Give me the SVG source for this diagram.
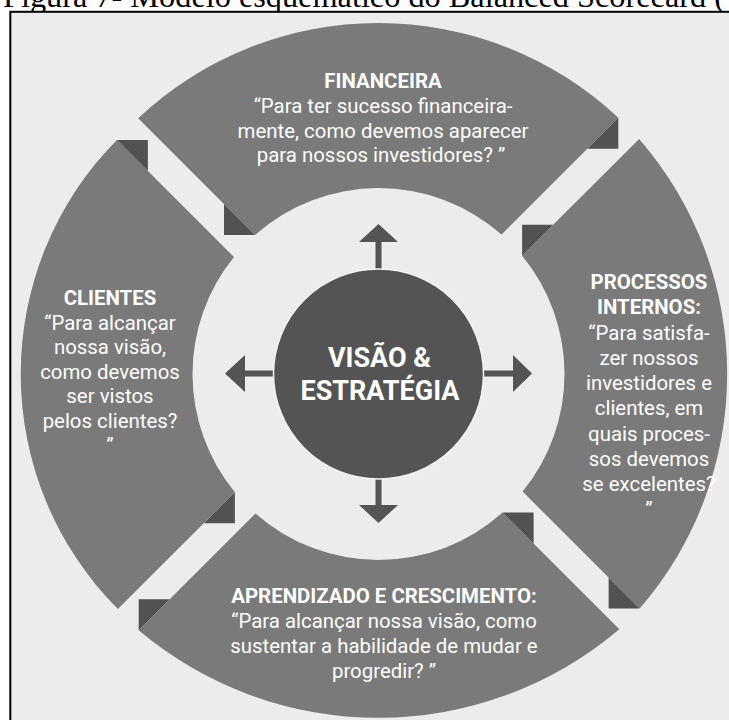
<svg xmlns="http://www.w3.org/2000/svg" width="729" height="720" viewBox="0 0 729 720">
<style>
.seg{fill:#7a7a7a}
.fold{fill:#525252}
.arr{fill:#545454}
.t{font-family:Roboto,"Open Sans",sans-serif;font-size:20.4px;fill:#ffffff;text-anchor:middle}
.b{font-weight:bold}
.c{font-family:Roboto,"Open Sans",sans-serif;font-size:27px;font-weight:bold;fill:#ffffff;text-anchor:middle}
</style>
<rect x="0" y="0" width="729" height="720" fill="#ffffff"/>
<text x="3" y="7" font-family="Liberation Serif, serif" font-size="32.3" fill="#000">Figura 7- Modelo esquemático do Balanced Scorecard (</text>
<rect x="10.3" y="11.8" width="740" height="740" fill="#ececec" stroke="#000" stroke-width="2"/>

<g id="financeira">
<path class="seg" d="M138.2,118.2 A351,351 0 0 1 618.3,117.7 L501.5,234.5 A186,186 0 0 0 255,235 Z"/>
<polygon class="fold" points="255,235 224,235 224,204"/>
<polygon class="fold" points="618.3,117.7 618.3,148.7 587.3,148.7"/>
<text class="t b" x="383" y="88">FINANCEIRA</text>
<text class="t" x="383" y="113">“Para ter sucesso financeira-</text>
<text class="t" x="383" y="138">mente, como devemos aparecer</text>
<text class="t" x="381" y="162">para nossos investidores? ”</text>
</g>

<g id="processos">
<path class="seg" d="M639.1,138.9 A358,358 0 0 1 639.6,608.6 L522.6,491.6 A186,186 0 0 0 522.15,255.85 Z"/>
<polygon class="fold" points="522.15,255.85 522.15,224.85 553.15,224.85"/>
<polygon class="fold" points="639.6,608.6 608.6,608.6 608.6,577.6"/>
<text class="t b" x="649" y="289">PROCESSOS</text>
<text class="t b" x="649" y="314">INTERNOS:</text>
<text class="t" x="649" y="340">“Para satisfa-</text>
<text class="t" x="649" y="365">zer nossos</text>
<text class="t" x="649" y="390">investidores e</text>
<text class="t" x="649" y="415">clientes, em</text>
<text class="t" x="649" y="441">quais proces-</text>
<text class="t" x="649" y="466">sos devemos</text>
<text class="t" x="649" y="491">se excelentes?</text>
<text class="t" x="649" y="516">”</text>
</g>

<g id="aprendizado">
<path class="seg" d="M619.3,629.3 A372,372 0 0 1 138.7,630.3 L255.5,513.5 A186,186 0 0 0 502.6,512.6 Z"/>
<polygon class="fold" points="502.6,512.6 533.6,512.6 533.6,543.6"/>
<polygon class="fold" points="138.7,630.3 138.7,599.3 169.7,599.3"/>
<text class="t b" x="384" y="603">APRENDIZADO E CRESCIMENTO:</text>
<text class="t" x="384" y="628">“Para alcançar nossa visão, como</text>
<text class="t" x="384" y="653">sustentar a habilidade de mudar e</text>
<text class="t" x="384" y="678">progredir? ”</text>
</g>

<g id="clientes">
<path class="seg" d="M117.9,609.1 A333,333 0 0 1 116.9,139.9 L233.95,256.95 A186,186 0 0 0 234.85,492.15 Z"/>
<polygon class="fold" points="234.85,492.15 234.85,523.15 203.85,523.15"/>
<polygon class="fold" points="116.9,139.9 147.9,139.9 147.9,170.9"/>
<text class="t b" x="110" y="305">CLIENTES</text>
<text class="t" x="110" y="329.5">“Para alcançar</text>
<text class="t" x="110" y="354">nossa visão,</text>
<text class="t" x="110" y="378.5">como devemos</text>
<text class="t" x="110" y="403">ser vistos</text>
<text class="t" x="110" y="427.5">pelos clientes?</text>
<text class="t" x="110" y="452">”</text>
</g>

<g id="connectors">
<rect class="arr" x="375.5" y="241" width="6" height="40"/>
<polygon class="arr" points="378.5,224 398,242 359,242"/>
<rect class="arr" x="375.5" y="468" width="6" height="38"/>
<polygon class="arr" points="378.5,523 398,505 359,505"/>
<rect class="arr" x="244" y="370.5" width="40" height="6"/>
<polygon class="arr" points="225,373.5 245,355 245,392"/>
<rect class="arr" x="474" y="370.5" width="40" height="6"/>
<polygon class="arr" points="532,373.5 513,355 513,392"/>
</g>

<g id="visao">
<circle cx="378.5" cy="374" r="105" fill="#545454" stroke="#f4f4f4" stroke-width="1.5"/>
<text class="c" x="379.5" y="367">VISÃO &amp;</text>
<text class="c" x="380" y="400">ESTRATÉGIA</text>
</g>
</svg>
